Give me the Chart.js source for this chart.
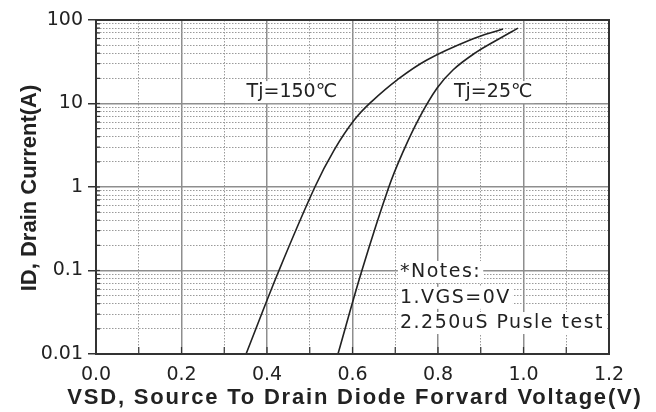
<!DOCTYPE html>
<html>
<head>
<meta charset="utf-8">
<script src="https://cdn.jsdelivr.net/npm/chart.js@4.4.1/dist/chart.umd.min.js"></script>
<style>
  html, body { margin: 0; padding: 0; background: #fff; }
  #wrap { width: 656px; height: 412px; }
</style>
</head>
<body>
<div id="wrap"><canvas id="grafico-vsd" width="656" height="412"></canvas></div>
<script>
// valores (V, A)
const vsd150 = [0.351, 0.428, 0.512, 0.557, 0.604, 0.646, 0.704, 0.774, 0.875, 0.952];
const id150  = [0.01, 0.1, 1.0, 2.77, 6.34, 10.7, 19.1, 33.2, 57.6, 78];
const vsd25  = [0.566, 0.622, 0.685, 0.720, 0.756, 0.798, 0.835, 0.887, 0.938, 0.987];
const id25   = [0.01, 0.1, 1.0, 2.77, 6.7, 15.3, 25.2, 40.3, 57.6, 80];
const yDecades = [0.01, 0.1, 1, 10, 100];
const curveNames = ['Tj=150℃', 'Tj=25℃'];
const notesLines = ['*Notes:', '1.VGS=0V', '2.250uS Pusle test'];
const xTitle = 'VSD, Source To Drain Diode Forvard Voltage(V)';
const yTitle = 'ID, Drain Current(A)';

const FONT = "'DejaVu Sans', 'Liberation Sans', Arial, sans-serif";
const BOLD_FONT = "'Liberation Sans', Arial, sans-serif";
const INK = '#222';

function isDecade(v) {
    const l = Math.log10(v);
    return Math.abs(l - Math.round(l)) < 1e-6;
}
function isMajorX(v) {
    return Math.abs(v * 5 - Math.round(v * 5)) < 1e-6;
}

// moldura, marcas internas e textos
const extrasPlugin = {
    id: 'extras',
    afterDraw(chart) {
        const { ctx, chartArea: a, scales: { x, y } } = chart;
        ctx.save();
        ctx.strokeStyle = '#333';
        ctx.lineWidth = 1.2;
        x.ticks.forEach(t => {
            const px = x.getPixelForValue(t.value);
            ctx.beginPath(); ctx.moveTo(px, a.bottom); ctx.lineTo(px, a.bottom - 7); ctx.stroke();
        });
        y.ticks.forEach(t => {
            const py = y.getPixelForValue(t.value);
            ctx.beginPath(); ctx.moveTo(a.left, py); ctx.lineTo(a.left + 4, py); ctx.stroke();
        });

        ctx.font = '19px ' + FONT;
        ctx.textBaseline = 'middle';
        ctx.textAlign = 'left';
        const box = (txt, px, py, align, spacing) => {
            ctx.letterSpacing = spacing;
            const w = ctx.measureText(txt).width;
            const left = align === 'center' ? px - w / 2 : px;
            ctx.fillStyle = '#fff';
            ctx.fillRect(left - 2, py - 11, w + 4, 22);
            ctx.fillStyle = INK;
            ctx.fillText(txt, left, py);
        };
        box(curveNames[0], x.getPixelForValue(0.458), y.getPixelForValue(13.7), 'center', '0px');
        box(curveNames[1], x.getPixelForValue(0.929), y.getPixelForValue(13.7), 'center', '0px');
        const notesY = [0.096, 0.047, 0.0235];
        notesLines.forEach((l, i) => box(l, x.getPixelForValue(0.711), y.getPixelForValue(notesY[i]), 'left', '1.5px'));

        // títulos dos eixos (o do X passa da largura do eixo)
        ctx.fillStyle = INK;
        ctx.textAlign = 'center';
        ctx.font = 'bold 22px ' + BOLD_FONT;
        ctx.letterSpacing = '1.8px';
        ctx.fillText(xTitle, 355, 398);
        ctx.letterSpacing = '0px';
        ctx.translate(30, 188);
        ctx.rotate(-Math.PI / 2);
        ctx.fillText(yTitle, 0, 0, 254);
        ctx.setTransform(1, 0, 0, 1, 0, 0);

        ctx.strokeStyle = '#333';
        ctx.lineWidth = 2;
        ctx.strokeRect(a.left, a.top, a.right - a.left, a.bottom - a.top);
        ctx.restore();
    }
};

const ctx = document.getElementById('grafico-vsd').getContext('2d');
new Chart(ctx, {
    type: 'scatter',
    data: {
        datasets: [
            { label: curveNames[0], data: vsd150.map((v, i) => ({ x: v, y: id150[i] })) },
            { label: curveNames[1], data: vsd25.map((v, i) => ({ x: v, y: id25[i] })) }
        ].map(d => Object.assign(d, {
            showLine: true, borderColor: INK, borderWidth: 1.6, pointRadius: 0, tension: 0.4
        }))
    },
    options: {
        responsive: false,
        animation: false,
        devicePixelRatio: 1,
        layout: { padding: { top: 20, right: 47, left: 0, bottom: 0 } },
        plugins: { legend: { display: false }, tooltip: { enabled: false } },
        scales: {
            x: {
                type: 'linear', min: 0, max: 1.2,
                afterFit: s => { s.height = 58; },
                ticks: {
                    stepSize: 0.1, autoSkip: false, maxRotation: 0, padding: 10,
                    color: INK, font: { family: FONT, size: 19 },
                    callback: v => isMajorX(v) ? v.toFixed(1) : ''
                },
                grid: {
                    drawTicks: false,
                    color: c => c.tick && isMajorX(c.tick.value) ? '#8e8e8e' : '#9a9a9a',
                    lineWidth: c => c.tick && isMajorX(c.tick.value) ? 1.5 : 1
                },
                border: { color: '#333', width: 2, dash: c => c.tick && !isMajorX(c.tick.value) ? [1.5, 1.5] : [] }
            },
            y: {
                type: 'logarithmic', min: 0.01, max: 100,
                afterFit: s => { s.width = 96; },
                afterBuildTicks: s => {
                    const t = [];
                    yDecades.forEach((d, i) => {
                        t.push({ value: d });
                        if (i < yDecades.length - 1) for (let m = 2; m <= 9; m++) t.push({ value: d * m });
                    });
                    s.ticks = t;
                },
                ticks: {
                    autoSkip: false, padding: 5, color: INK, font: { family: FONT, size: 19 },
                    callback: v => isDecade(v) ? String(+v.toPrecision(1)) : ''
                },
                grid: {
                    tickLength: 8, tickWidth: 1.5,
                    tickColor: c => c.tick && isDecade(c.tick.value) ? '#333' : 'rgba(0,0,0,0)',
                    color: c => c.tick && isDecade(c.tick.value) ? '#8e8e8e' : '#9a9a9a',
                    lineWidth: c => c.tick && isDecade(c.tick.value) ? 1.5 : 1
                },
                border: { color: '#333', width: 2, dash: c => c.tick && !isDecade(c.tick.value) ? [1.5, 1.5] : [] }
            }
        }
    },
    plugins: [extrasPlugin]
});
</script>
</body>
</html>
